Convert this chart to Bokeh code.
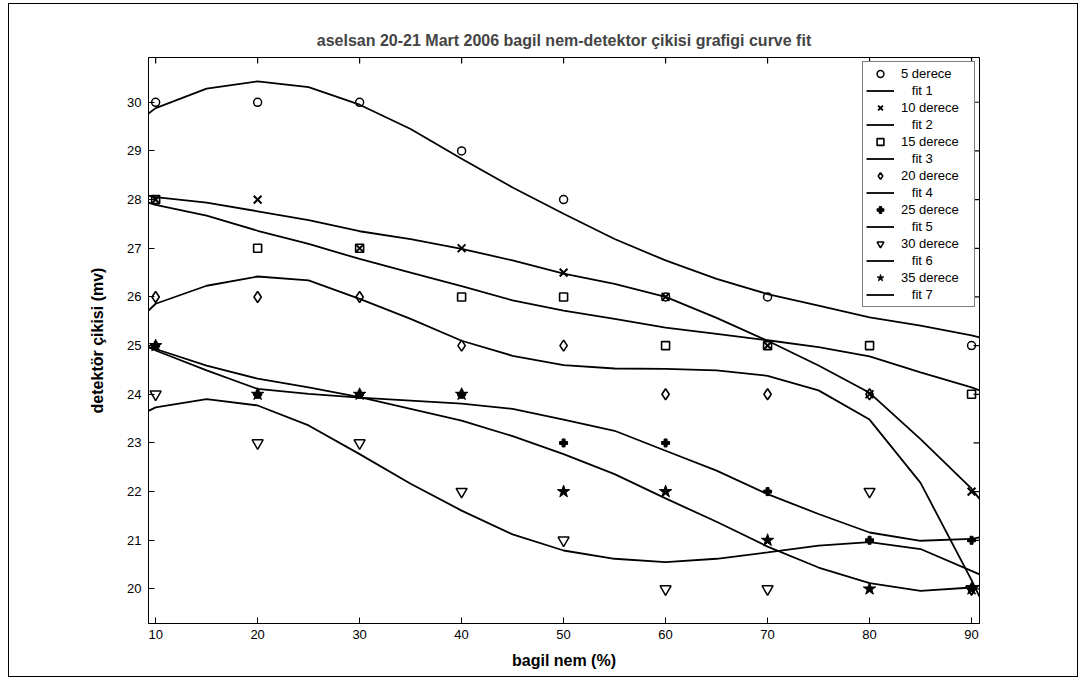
import math
from bokeh.plotting import figure
from bokeh.models import Range1d, FixedTicker, Legend, LegendItem
from bokeh.embed import file_html
from bokeh.resources import INLINE

nan = float("nan")

# measured data points
x_pts = [10, 20, 30, 40, 50, 60, 70, 80, 90]
d05 = [30, 30, 30, 29, 28, 26, 26, nan, 25]
d10 = [28, 28, 27, 27, 26.5, 26, 25, 24, 22]
d15 = [28, 27, 27, 26, 26, 25, 25, 25, 24]
d20 = [26, 26, 26, 25, 25, 24, 24, 24, 20]
d25 = [25, 24, 24, 24, 23, 23, 22, 21, 21]
d30 = [24, 23, 23, 22, 21, 20, 20, 22, 20]
d35 = [25, 24, 24, 24, 22, 22, 21, 20, 20]

# fit curves
x_fit = [9.3, 10, 15, 20, 25, 30, 35, 40, 45, 50, 55, 60, 65, 70, 75, 80, 85, 90, 90.78]
fit1 = [29.77, 29.88, 30.28, 30.43, 30.31, 29.95, 29.45, 28.84, 28.25, 27.71, 27.19, 26.75, 26.37, 26.06, 25.82, 25.58, 25.41, 25.21, 25.17]
fit2 = [28.08, 28.05, 27.94, 27.76, 27.58, 27.35, 27.19, 26.99, 26.75, 26.48, 26.27, 26.0, 25.57, 25.1, 24.59, 24.03, 23.08, 22.06, 21.85]
fit3 = [27.94, 27.89, 27.67, 27.36, 27.09, 26.78, 26.5, 26.22, 25.93, 25.72, 25.55, 25.37, 25.24, 25.11, 24.97, 24.78, 24.45, 24.14, 24.08]
fit4 = [25.72, 25.86, 26.23, 26.42, 26.34, 25.96, 25.55, 25.1, 24.79, 24.6, 24.53, 24.52, 24.49, 24.38, 24.08, 23.48, 22.18, 20.18, 19.84]
fit5 = [24.97, 24.9, 24.49, 24.11, 24.01, 23.93, 23.87, 23.81, 23.7, 23.48, 23.25, 22.84, 22.43, 21.95, 21.54, 21.16, 20.99, 21.03, 21.06]
fit6 = [23.66, 23.73, 23.9, 23.77, 23.36, 22.77, 22.16, 21.61, 21.12, 20.79, 20.62, 20.55, 20.62, 20.75, 20.89, 20.96, 20.82, 20.37, 20.3]
fit7 = [24.97, 24.93, 24.59, 24.32, 24.14, 23.94, 23.7, 23.46, 23.14, 22.77, 22.36, 21.86, 21.38, 20.87, 20.44, 20.12, 19.96, 20.03, 20.07]

x_ticks = [10, 20, 30, 40, 50, 60, 70, 80, 90]
y_ticks = [20, 21, 22, 23, 24, 25, 26, 27, 28, 29, 30]

series_labels = ["5 derece", "10 derece", "15 derece", "20 derece", "25 derece", "30 derece", "35 derece"]
fit_labels = ["fit 1", "fit 2", "fit 3", "fit 4", "fit 5", "fit 6", "fit 7"]

FONT = "Liberation Sans"

xr = Range1d(9.3, 90.78)
yr = Range1d(19.29, 30.92)

p = figure(width=1070, height=674, x_range=xr, y_range=yr,
           output_backend="svg", toolbar_location=None,
           min_border_left=139, min_border_right=100,
           min_border_top=53, min_border_bottom=55,
           title="aselsan 20-21 Mart 2006 bagil nem-detektor çikisi grafigi curve fit")
p.styles = {"border": "1px solid black", "margin-left": "8px", "margin-top": "3px"}

p.title.align = "center"
p.title.text_font = FONT
p.title.text_font_size = "16px"
p.title.text_font_style = "bold"
p.title.standoff = 18

p.background_fill_color = "white"
p.border_fill_color = "white"
p.outline_line_color = "black"
p.outline_line_width = 1
p.xgrid.visible = False
p.ygrid.visible = False

for ax, tk in ((p.xaxis[0], x_ticks), (p.yaxis[0], y_ticks)):
    ax.ticker = FixedTicker(ticks=tk)
    ax.minor_tick_line_color = None
    ax.major_tick_in = 6
    ax.major_tick_out = 0
    ax.major_label_text_font = FONT
    ax.major_label_text_font_size = "13px"
    ax.major_label_text_color = "black"
    ax.axis_line_color = "black"
    ax.major_tick_line_color = "black"
    ax.axis_label_text_font = FONT
    ax.axis_label_text_font_size = "16px"
    ax.axis_label_text_font_style = "bold"
    ax.axis_label_text_color = "black"

p.xaxis.axis_label = "bagil nem (%)"
p.yaxis.axis_label = "detektör çikisi (mv)"
p.xaxis.major_label_standoff = 6
p.yaxis.major_label_standoff = 7
p.xaxis.axis_label_standoff = 10
p.yaxis.axis_label_standoff = 18

# inward ticks on the top and right edges of the box
p.ray(x=x_ticks, y=[yr.end] * len(x_ticks), length=6, length_units="screen",
      angle=-math.pi / 2, line_color="black", line_width=1.2)
p.ray(x=[xr.end] * len(y_ticks), y=y_ticks, length=6, length_units="screen",
      angle=math.pi, line_color="black", line_width=1.2)

LW = 1.8
sc = []
sc.append(p.scatter(x_pts, d05, marker="circle", size=8, fill_color=None, line_color="black", line_width=1.5))
sc.append(p.scatter(x_pts, d10, marker="x", size=11, line_color="black", line_width=2))
sc.append(p.scatter(x_pts, d15, marker="square", size=8, fill_color=None, line_color="black", line_width=1.6))
sc.append(p.scatter(x_pts, d20, marker="diamond", size=11, fill_color=None, line_color="black", line_width=1.6))
sc.append(p.scatter(x_pts, d25, marker="plus", size=8, fill_color="black", line_color="black", line_width=1))
sc.append(p.scatter(x_pts, d30, marker="inverted_triangle", size=11, fill_color=None, line_color="black", line_width=1.5))
sc.append(p.scatter(x_pts, d35, marker="star", size=13, fill_color="black", line_color="black", line_width=1))

fits = [fit1, fit2, fit3, fit4, fit5, fit6, fit7]
ln = [p.line(x_fit, f, line_color="black", line_width=LW) for f in fits]

items = []
for s, l, sl, fl in zip(sc, ln, series_labels, fit_labels):
    items.append(LegendItem(label=sl, renderers=[s]))
    items.append(LegendItem(label="\u00a0\u00a0\u00a0" + fl, renderers=[l]))

legend = Legend(items=items, location="top_right")
legend.margin = 4
legend.padding = 3
legend.spacing = 0
legend.glyph_width = 28
legend.glyph_height = 17
legend.label_height = 17
legend.label_width = 70
legend.label_standoff = 7
legend.label_text_font = FONT
legend.label_text_font_size = "13px"
legend.label_text_color = "black"
legend.border_line_color = "black"
legend.border_line_width = 1
legend.background_fill_color = "white"
legend.background_fill_alpha = 1
p.add_layout(legend)

open("out.html", "w").write(file_html(p, INLINE, "chart"))
